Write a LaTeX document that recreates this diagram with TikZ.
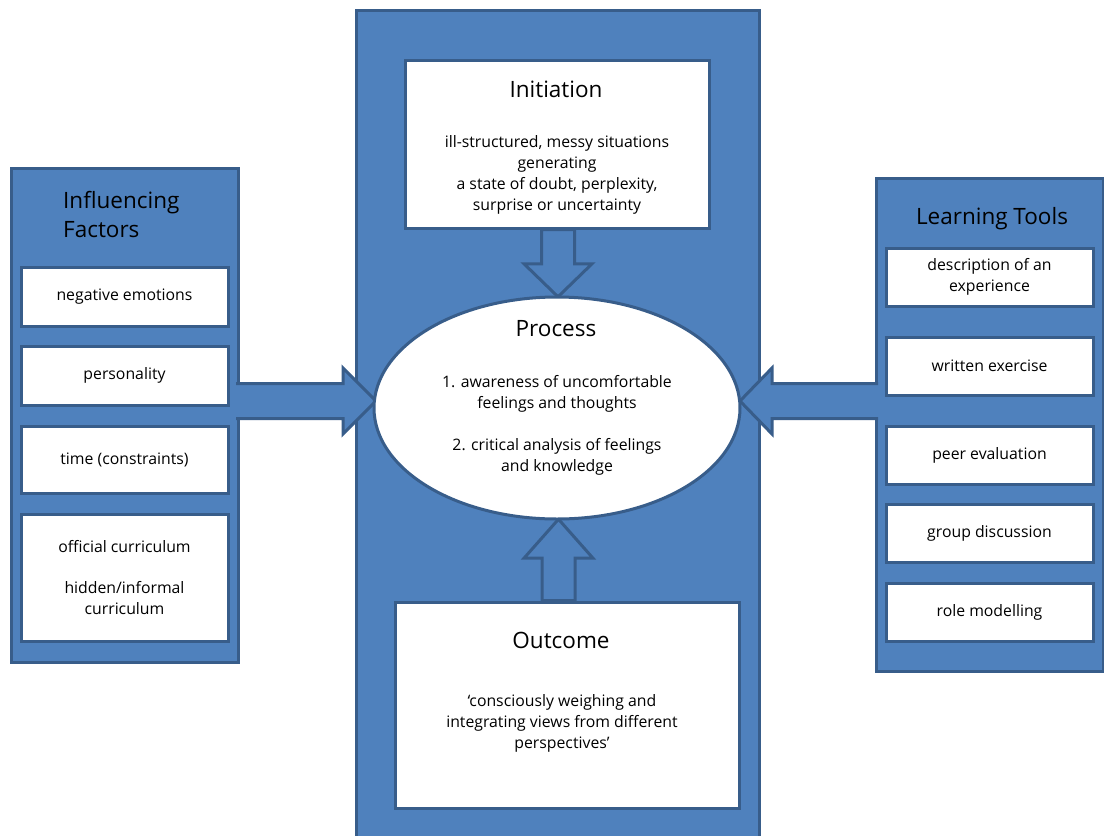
\documentclass[tikz,border=0pt]{standalone}
\usepackage{fontspec}
\setmainfont{Open Sans}
\usetikzlibrary{calc,shapes.geometric}
\definecolor{panelblue}{HTML}{4F81BD}
\definecolor{edgeblue}{HTML}{385D8A}
\begin{document}
\begin{tikzpicture}[x=1pt,y=-1pt,
  panel/.style={draw=edgeblue,fill=panelblue,line width=3pt},
  itembox/.style={draw=edgeblue,fill=white,line width=3pt,inner sep=0pt,
    align=center,font=\fontsize{15.8}{21}\selectfont},
  bodytext/.style={align=center,inner sep=0pt,font=\fontsize{15.8}{21}\selectfont},
  titletext/.style={inner sep=0pt,font=\fontsize{22.5}{29}\selectfont},
  blockarrow/.style={draw=edgeblue,fill=panelblue,line width=3pt,line join=miter}]
\clip (0,0) rectangle (1104,836);
\fill[white] (0,0) rectangle (1104,836);

% side and centre panels
\node[panel,minimum width=227,minimum height=494,inner sep=0pt] (lp) at (124.5,415) {};
\node[panel,minimum width=227,minimum height=493,inner sep=0pt] (rp) at (989.5,424.5) {};
\node[panel,minimum width=403,minimum height=840,inner sep=0pt] (cp) at (557.5,430) {};

% influencing factors
\node[titletext,anchor=west,align=left] (lt) at (63,214.5) {Influencing\\Factors};
\node[itembox,minimum width=207,minimum height=59] (ne) at (124.5,296.5) {negative emotions};
\node[itembox,minimum width=207,minimum height=59] (pe) at (124.5,375.5) {personality};
\node[itembox,minimum width=207,minimum height=67] (tc) at (124.5,459.5) {time (constraints)};
\node[itembox,minimum width=207,minimum height=127] (cu) at (124.5,577.5)
  {official curriculum\\[20pt]hidden/informal\\curriculum};

% learning tools
\node[titletext] (rt) at (992,219) {Learning Tools};
\node[itembox,minimum width=207,minimum height=58] (de) at (989.5,277) {description of an\\experience};
\node[itembox,minimum width=207,minimum height=58] (we) at (989.5,366) {written exercise};
\node[itembox,minimum width=207,minimum height=58] (pv) at (989.5,455) {peer evaluation};
\node[itembox,minimum width=207,minimum height=58] (gd) at (989.5,533) {group discussion};
\node[itembox,minimum width=207,minimum height=58] (rm) at (989.5,612) {role modelling};

% initiation and outcome boxes
\node[itembox,minimum width=304,minimum height=168] (init) at (557,144) {};
\node[titletext] (initt) at (556,89) {Initiation};
\node[bodytext] (initb) at (557,174.5)
  {ill-structured, messy situations\\generating\\a state of doubt, perplexity,\\surprise or uncertainty};

\node[itembox,minimum width=344,minimum height=206] (out) at (567,705) {};
\node[titletext] (outt) at (561,640) {Outcome};
\node[bodytext] (outb) at (562,723)
  {‘consciously weighing and\\integrating views from different\\perspectives’};

% process ellipse geometry (drawn after the arrows)
\path (557,408) node[ellipse,minimum width=366,minimum height=222,inner sep=0pt] (proc) {};

% block arrows
\coordinate (db) at ($(init.south)+(1,0)$);
\coordinate (dt) at ($(proc.north)+(1,0)$);
\path[blockarrow] ($(db)+(-16.5,0)$) -- ($(dt)+(-16.5,-33)$) -- ($(dt)+(-34,-33)$) -- (dt)
  -- ($(dt)+(34,-33)$) -- ($(dt)+(16.5,-33)$) -- ($(db)+(16.5,0)$) -- cycle;

\coordinate (ub) at ($(out.north)+(-8.5,0)$);
\coordinate (ut) at ($(proc.south)+(1.5,0)$);
\path[blockarrow] ($(ub)+(-16.5,0)$) -- ($(ut)+(-16.5,39)$) -- ($(ut)+(-34.5,39)$) -- (ut)
  -- ($(ut)+(34.5,39)$) -- ($(ut)+(16.5,39)$) -- ($(ub)+(16.5,0)$) -- cycle;

\coordinate (lb) at (236,401);
\coordinate (lt2) at (376,401);
\path[blockarrow] (lb |- 0,383.5) -- ($(lt2)+(-33,-17.5)$) -- ($(lt2)+(-33,-33)$) -- (lt2)
  -- ($(lt2)+(-33,33)$) -- ($(lt2)+(-33,17.5)$) -- (lb |- 0,418.5);

\coordinate (rb) at (878,401);
\coordinate (rt2) at (740,401);
\path[blockarrow] (rb |- 0,383.5) -- ($(rt2)+(32,-17.5)$) -- ($(rt2)+(32,-33)$) -- (rt2)
  -- ($(rt2)+(32,33)$) -- ($(rt2)+(32,17.5)$) -- (rb |- 0,418.5);

% process
\node[ellipse,draw=edgeblue,fill=white,line width=3pt,minimum width=366,minimum height=222,inner sep=0pt] at (proc) {};
\node[titletext] (proct) at (556,329) {Process};
\node[bodytext] (procb) at (557,425)
  {1. awareness of uncomfortable\\feelings and thoughts\\[21pt]2. critical analysis of feelings\\and knowledge};
\end{tikzpicture}
\end{document}
